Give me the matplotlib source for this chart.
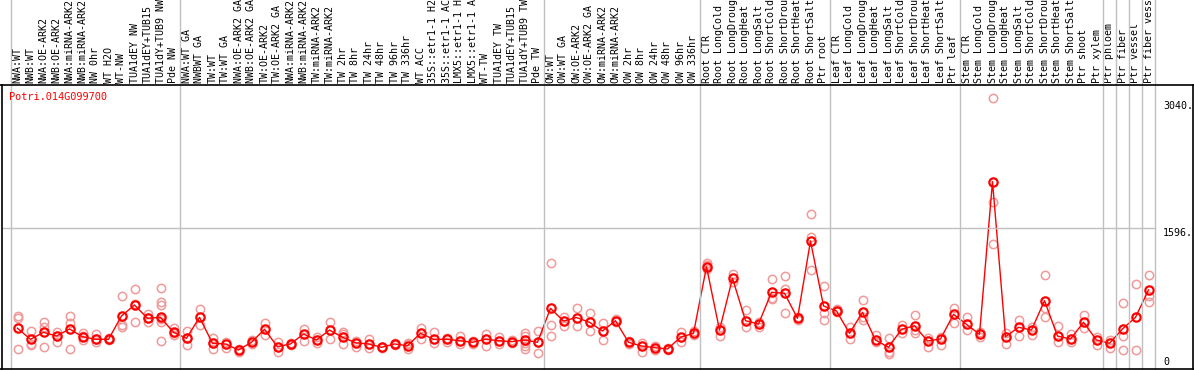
import numpy as np
import matplotlib.pyplot as plt
import matplotlib.transforms as mtransforms
from matplotlib.lines import Line2D

gene_id = "Potri.014G099700"

sample_labels = [
    # NW
    "NWA:WT", "NWB:WT", "NWA:OE-ARK2", "NWB:OE-ARK2", "NWA:miRNA-ARK2",
    "NWB:miRNA-ARK2", "NW 0hr", "WT H2O", "WT-NW", "TUA1dEY NW",
    "TUA1dEY+TUB15", "TUA1dY+TUB9 NW", "Pde NW",
    # TW
    "NWA:WT GA", "NWBWT GA", "TW:WT", "TW:WT GA", "NWA:OE-ARK2 GA",
    "NWB:OE-ARK2 GA", "TW:OE-ARK2", "TW:OE-ARK2 GA", "NWA:miRNA-ARK2",
    "NWB:miRNA-ARK2", "TW:miRNA-ARK2", "TW:miRNA-ARK2", "TW 2hr", "TW 8hr",
    "TW 24hr", "TW 48hr", "TW 96hr", "TW 336hr", "WT ACC", "35S::etr1-1 H2",
    "35S::etr1-1 AC", "LMX5::etr1-1 H", "LMX5::etr1-1 A", "WT-TW",
    "TUA1dEY TW", "TUA1dEY+TUB15", "TUA1dY+TUB9 TW", "Pde TW",
    # OW
    "OW:WT", "OW:WT GA", "OW:OE-ARK2", "OW:OE-ARK2 GA", "OW:miRNA-ARK2",
    "OW:miRNA-ARK2", "OW 2hr", "OW 8hr", "OW 24hr", "OW 48hr", "OW 96hr",
    "OW 336hr",
    # root
    "Root CTR", "Root LongCold", "Root LongDroug", "Root LongHeat",
    "Root LongSalt", "Root ShortCold", "Root ShortDrou", "Root ShortHeat",
    "Root ShortSalt", "Ptr root",
    # leaf
    "Leaf CTR", "Leaf LongCold", "Leaf LongDroug", "Leaf LongHeat",
    "Leaf LongSalt", "Leaf ShortCold", "Leaf ShortDrou", "Leaf ShortHeat",
    "Leaf ShortSalt", "Ptr leaf",
    # stem
    "Stem CTR", "Stem LongCold", "Stem LongDroug", "Stem LongHeat",
    "Stem LongSalt", "Stem ShortCold", "Stem ShortDrou", "Stem ShortHeat",
    "Stem ShortSalt", "Ptr shoot", "Ptr xylem",
    # single tissues
    "Ptr phloem", "Ptr fiber", "Ptr vessel", "Ptr fiber vess",
]

group_sizes = [13, 28, 12, 10, 10, 11, 1, 1, 1, 1]

mean_expr = [
    462, 337, 416, 374, 454, 366, 337, 337, 601, 726, 575, 586, 416,
    348, 586, 292, 284, 216, 303, 450, 253, 284, 397, 329, 442, 360, 298,
    284, 246, 284, 264, 405, 337, 337, 321, 303, 337, 321, 310, 329, 303,
    688, 544, 584, 530, 431, 548, 303, 261, 242, 227, 360, 405,
    1160, 442, 1029, 548, 510, 870, 859, 575, 1452, 715,
    658, 405, 643, 329, 246, 450, 491, 318, 340, 620,
    507, 394, 2125, 366, 473, 442, 775, 374, 340, 530, 329,
    292, 454, 586, 896,
]

replicates = [
    [600, 580, 225], [430, 285, 275], [530, 480, 246], [423, 310, 374],
    [601, 525, 223], [405, 329, 374], [394, 310, 340], [352, 329, 335],
    [828, 499, 473], [907, 537, 735], [620, 578, 537],
    [915, 763, 726, 564, 537, 321], [462, 386, 408],
    [434, 272, 352], [677, 499], [348, 227, 295], [310, 235], [223, 196],
    [329, 284], [525, 386], [303, 196], [295, 272], [454, 321], [360, 298],
    [530, 337], [416, 397, 284], [321, 253], [340, 235], [250, 238],
    [295, 272], [298, 284, 227], [462, 340], [416, 292], [348, 310],
    [378, 284], [321, 284], [397, 264], [360, 284], [329, 295],
    [412, 374, 298, 264, 227], [434, 178, 306],
    [1199, 499, 378], [595, 493], [688, 488], [635, 431], [518, 329],
    [567, 533], [318, 289], [298, 196], [264, 216], [238, 216], [423, 303],
    [434, 386],
    [1206, 1180, 1134], [480, 374], [1078, 990], [669, 480], [537, 480],
    [1017, 800, 790], [1055, 904, 632], [593, 556], [1755, 1501, 1123],
    [941, 632, 556],
    [677, 647], [480, 340], [783, 590, 556], [386, 310], [348, 196, 170],
    [499, 405], [613, 442, 408], [348, 253], [366, 272], [688, 525],
    [593, 442], [420, 360], [3071, 1898, 1414], [405, 280], [556, 378],
    [476, 386], [1066, 695, 586], [488, 303], [397, 310], [613, 462],
    [366, 272],
    [329, 242], [745, 378, 216], [964, 216], [1066, 828, 757],
]

axis_labels = [3040, 1596, 0]
grid_value = 1596

# figure is laid out in pixels
W, H = 1194, 370


def fx(px):
    return px / W


def fy(py):
    return 1 - py / H


fig = plt.figure(figsize=(W / 100, H / 100), dpi=100)
fig.patch.set_facecolor("white")

y_top = (369 - 85) * grid_value / (369 - 228.3)
ax = fig.add_axes([fx(11), fy(369), fx(1155) - fx(11), fy(85) - fy(369)])
ax.set_xlim(0, len(sample_labels))
ax.set_ylim(0, y_top)
ax.axis("off")

mono = "DejaVu Sans Mono"
trans_v = mtransforms.blended_transform_factory(ax.transData, fig.transFigure)
trans_h = mtransforms.blended_transform_factory(fig.transFigure, ax.transData)

# group separators
bounds = np.concatenate([[0], np.cumsum(group_sizes)])
for b in bounds:
    fig.add_artist(Line2D([b, b], [fy(369), 1.0], transform=trans_v,
                          color="#c0c0c0", lw=1))

# mid gridline
fig.add_artist(Line2D([fx(2), fx(1155)], [grid_value, grid_value],
                      transform=trans_h, color="#c0c0c0", lw=1))

# frame
fig.add_artist(Line2D([0, 1], [fy(85), fy(85)], color="black", lw=1.2))
fig.add_artist(Line2D([0, 1], [fy(369), fy(369)], color="black", lw=1.2))
fig.add_artist(Line2D([fx(2), fx(2)], [fy(369), fy(85)], color="black", lw=1.2))
fig.add_artist(Line2D([fx(1193), fx(1193)], [fy(369), fy(85)], color="black", lw=1.2))

xs = np.arange(len(sample_labels)) + 0.5

# replicate points
for x, reps in zip(xs, replicates):
    ax.plot([x] * len(reps), reps, "o", ms=6, mfc="none", mec="#f09a9a",
            mew=1.1, clip_on=False, zorder=2)

# mean line
ax.plot(xs, mean_expr, "-", color="red", lw=1, zorder=3, clip_on=False)
ax.plot(xs, mean_expr, "o", ms=6, mfc="none", mec="red", mew=1.6,
        zorder=4, clip_on=False)

# sample labels
for x, lab in zip(xs, sample_labels):
    ax.text(x, fy(83), lab, transform=trans_v, rotation=90, ha="center",
            va="bottom", family=mono, fontsize=7.2, color="black")

# gene name
fig.text(fx(9), fy(97), gene_id, family=mono, fontsize=7.4, color="red",
         ha="left", va="center")

# right-hand value labels
for v in axis_labels:
    if v == 0:
        fig.text(fx(1163), fy(362), "0", family=mono, fontsize=7.2,
                 ha="left", va="center")
    else:
        ax.text(fx(1163), v, f"{v}.", transform=trans_h, family=mono,
                fontsize=7.2, ha="left", va="top")

fig.savefig("out.png", dpi=100)
